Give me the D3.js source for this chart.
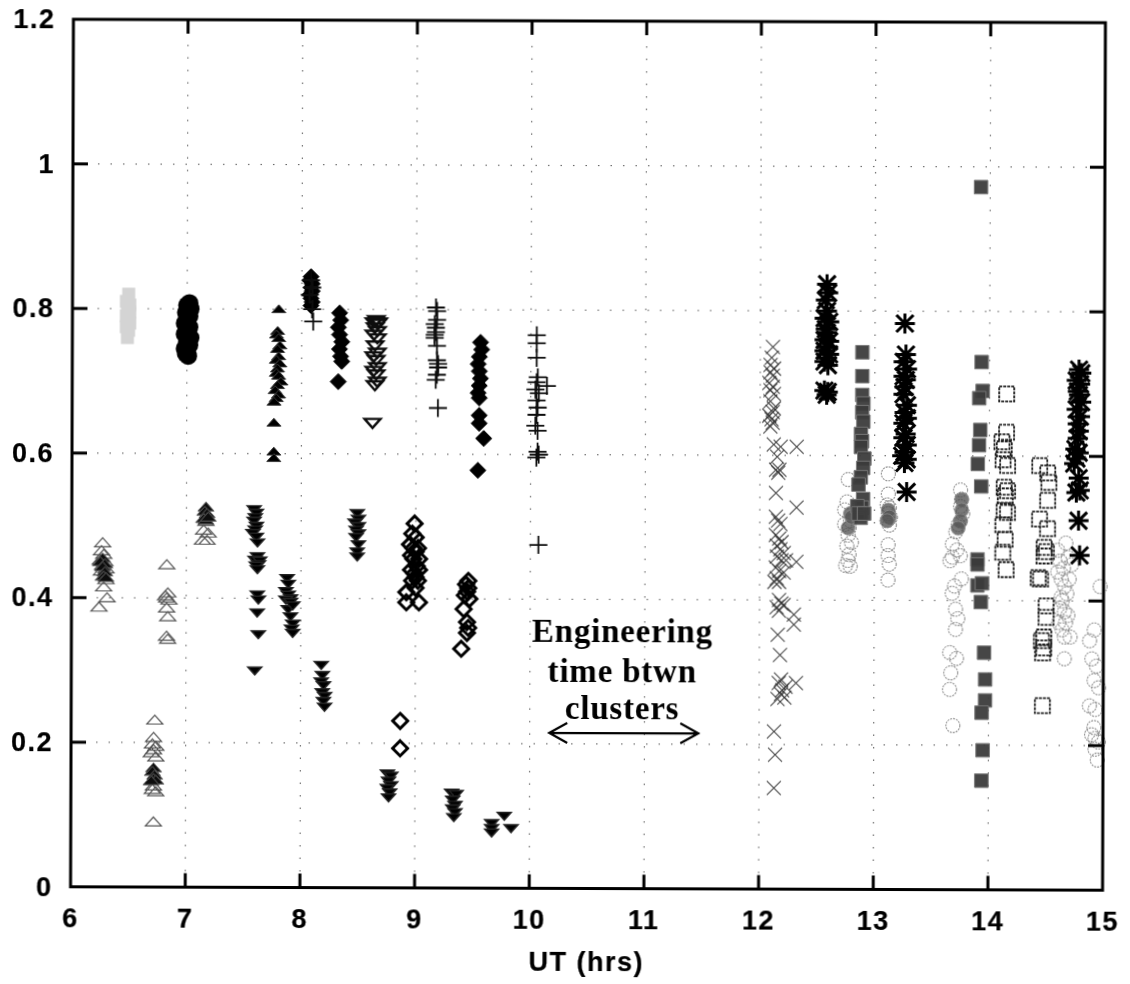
<!DOCTYPE html>
<html><head><meta charset="utf-8">
<script src="https://cdn.jsdelivr.net/npm/d3@7"></script>
<style>html,body{margin:0;padding:0;background:#fff}svg{display:block}</style>
</head><body><svg id="c" width="1130" height="984"><defs><filter id="scan" x="-2%" y="-2%" width="104%" height="104%"><feGaussianBlur stdDeviation="0.45"/></filter></defs></svg>
<script>
const xTicks=[6,7,8,9,10,11,12,13,14,15];
const yTicks=[0,0.2,0.4,0.6,0.8,1,1.2];
const xLabel="UT (hrs)";
const noteLines=["Engineering","time btwn","clusters"];
const noteArrow=[10.17,11.47,0.215];

const paleBlobs=[[6.49,.82],[6.47,.81],[6.5,.805],[6.48,.80],[6.5,.795],[6.47,.79],[6.49,.785],[6.5,.78],[6.47,.775],[6.49,.77],[6.48,.76]];
const blackCircles=[[7.02,.808],[7.0,.805],[7.03,.80],[6.99,.795],[7.02,.79],[7.0,.785],[6.98,.78],[7.02,.775],[7.0,.77],[6.98,.765],[7.03,.76],[7.0,.755],[7.02,.75],[6.98,.745],[7.0,.74],[7.01,.735],[6.99,.738]];
const blackUp=[[7.8,.80],[7.79,.77],[7.78,.765],[7.8,.76],[7.81,.75],[7.79,.745],[7.8,.735],[7.78,.73],[7.81,.725],[7.79,.718],[7.78,.712],[7.8,.708],[7.82,.70],[7.79,.695],[7.77,.688],[7.8,.682],[7.78,.677],[7.76,.672],[7.76,.643],[7.76,.603],[7.76,.594]];
const blackDiamonds=[[8.08,.845],[8.07,.84],[8.09,.835],[8.08,.83],[8.09,.825],[8.07,.82],[8.08,.815],[8.09,.81],[8.08,.805],[8.33,.795],[8.34,.785],[8.32,.775],[8.33,.765],[8.35,.755],[8.33,.745],[8.34,.735],[8.35,.728],[8.32,.70],[9.56,.755],[9.57,.745],[9.55,.735],[9.54,.725],[9.55,.715],[9.56,.705],[9.55,.695],[9.54,.685],[9.55,.678],[9.55,.654],[9.55,.643],[9.59,.622],[9.54,.578]];
const openDown=[[8.65,.785],[8.63,.782],[8.67,.782],[8.66,.78],[8.64,.775],[8.66,.77],[8.63,.765],[8.66,.76],[8.64,.75],[8.66,.74],[8.63,.735],[8.65,.73],[8.66,.72],[8.63,.715],[8.65,.71],[8.66,.70],[8.64,.695],[8.62,.643]];
const plusMarks=[[8.08,.84],[8.09,.83],[8.07,.82],[8.09,.80],[8.1,.783],[9.17,.803],[9.18,.798],[9.18,.786],[9.16,.78],[9.17,.775],[9.17,.769],[9.16,.765],[9.16,.761],[9.18,.75],[9.18,.73],[9.19,.725],[9.19,.72],[9.18,.71],[9.17,.703],[9.19,.664],[10.05,.765],[10.05,.754],[10.05,.734],[10.06,.707],[10.05,.70],[10.14,.695],[10.04,.69],[10.07,.685],[10.05,.675],[10.06,.665],[10.05,.655],[10.04,.64],[10.06,.633],[10.06,.604],[10.05,.596],[10.07,.60],[10.07,.475]];
const openUp=[[6.27,.476],[6.26,.465],[6.28,.46],[6.25,.452],[6.29,.45],[6.27,.445],[6.3,.44],[6.26,.437],[6.28,.43],[6.3,.425],[6.28,.415],[6.31,.40],[6.24,.387],[6.83,.446],[6.84,.407],[6.82,.403],[6.83,.40],[6.85,.397],[6.83,.386],[6.84,.374],[6.83,.347],[6.84,.343],[7.17,.506],[7.15,.494],[7.19,.49],[7.14,.48],[7.18,.48],[6.73,.231],[6.72,.207],[6.71,.198],[6.74,.195],[6.72,.19],[6.7,.186],[6.74,.18],[6.71,.135],[6.74,.132],[6.72,.14],[6.72,.09]];
const blackUpGray=[[6.27,.455],[6.25,.45],[6.29,.447],[6.27,.443],[6.29,.436],[6.28,.43],[6.3,.428],[7.17,.526],[7.16,.52],[7.18,.517],[7.15,.51],[7.17,.508],[7.19,.512],[6.72,.165],[6.71,.16],[6.73,.155],[6.72,.15],[6.74,.148],[6.7,.147]];
const blackDown=[[7.59,.523],[7.61,.518],[7.6,.512],[7.59,.507],[7.61,.50],[7.6,.495],[7.58,.49],[7.61,.485],[7.62,.477],[7.62,.458],[7.6,.453],[7.64,.452],[7.63,.447],[7.61,.445],[7.62,.44],[7.62,.405],[7.63,.398],[7.62,.38],[7.63,.35],[7.6,.30],[7.88,.428],[7.89,.42],[7.87,.41],[7.89,.405],[7.91,.40],[7.87,.398],[7.91,.395],[7.89,.385],[7.93,.39],[7.91,.375],[7.93,.365],[7.92,.358],[7.93,.352],[8.18,.308],[8.19,.294],[8.18,.285],[8.2,.28],[8.19,.27],[8.21,.265],[8.2,.258],[8.21,.25],[8.49,.518],[8.5,.51],[8.47,.505],[8.5,.50],[8.48,.495],[8.5,.49],[8.48,.485],[8.5,.475],[8.49,.465],[8.49,.458],[8.76,.158],[8.79,.155],[8.77,.148],[8.79,.142],[8.76,.138],[8.78,.132],[8.77,.125],[9.32,.132],[9.36,.13],[9.33,.122],[9.35,.115],[9.33,.11],[9.35,.105],[9.34,.098],[9.67,.09],[9.67,.083],[9.67,.077],[9.78,.10],[9.84,.083]];
const openDiamonds=[[8.99,.504],[8.97,.49],[9.0,.485],[8.95,.475],[9.02,.47],[8.98,.47],[9.0,.465],[8.96,.46],[9.03,.455],[8.98,.455],[9.01,.445],[8.96,.44],[9.03,.44],[8.99,.435],[9.02,.425],[8.97,.425],[9.0,.43],[8.92,.409],[8.92,.395],[9.0,.415],[9.03,.395],[9.46,.425],[9.44,.42],[9.46,.415],[9.43,.405],[9.47,.40],[9.45,.41],[9.42,.386],[9.45,.368],[9.46,.36],[9.45,.353],[9.4,.331],[8.87,.231],[8.87,.193]];
const grayCross=[[12.11,.75],[12.1,.735],[12.09,.725],[12.12,.72],[12.09,.715],[12.11,.71],[12.08,.70],[12.11,.695],[12.09,.69],[12.12,.685],[12.09,.675],[12.12,.665],[12.08,.655],[12.11,.66],[12.11,.645],[12.1,.65],[12.09,.64],[12.12,.615],[12.18,.612],[12.32,.612],[12.15,.598],[12.14,.58],[12.17,.58],[12.16,.576],[12.14,.548],[12.32,.528],[12.14,.515],[12.16,.51],[12.18,.505],[12.14,.49],[12.17,.485],[12.19,.48],[12.15,.475],[12.18,.47],[12.21,.465],[12.15,.46],[12.19,.455],[12.23,.455],[12.32,.453],[12.14,.445],[12.17,.44],[12.21,.438],[12.15,.43],[12.17,.425],[12.13,.425],[12.17,.40],[12.19,.395],[12.15,.39],[12.21,.393],[12.17,.385],[12.3,.38],[12.3,.366],[12.16,.352],[12.18,.324],[12.19,.29],[12.17,.285],[12.23,.28],[12.2,.275],[12.32,.285],[12.19,.27],[12.22,.265],[12.16,.263],[12.13,.218],[12.14,.186],[12.13,.14]];
const blackStars=[[12.58,.837],[12.59,.825],[12.57,.815],[12.58,.80],[12.56,.79],[12.6,.785],[12.57,.775],[12.58,.77],[12.56,.76],[12.6,.758],[12.58,.75],[12.56,.745],[12.6,.74],[12.58,.735],[12.56,.73],[12.59,.725],[12.56,.69],[12.59,.688],[12.58,.684],[13.26,.783],[13.27,.74],[13.25,.73],[13.28,.72],[13.25,.71],[13.27,.705],[13.26,.695],[13.25,.685],[13.28,.67],[13.26,.66],[13.28,.652],[13.25,.645],[13.27,.63],[13.25,.625],[13.28,.615],[13.26,.605],[13.24,.60],[13.28,.595],[13.26,.59],[13.28,.55],[14.78,.72],[14.8,.715],[14.76,.705],[14.79,.70],[14.77,.69],[14.78,.685],[14.8,.675],[14.76,.665],[14.79,.655],[14.77,.645],[14.78,.635],[14.77,.625],[14.75,.61],[14.78,.605],[14.76,.597],[14.74,.59],[14.78,.57],[14.76,.55],[14.79,.553],[14.78,.511],[14.79,.463]];
const graySquares=[[12.89,.743],[12.89,.71],[12.89,.684],[12.9,.672],[12.89,.66],[12.9,.647],[12.88,.63],[12.89,.62],[12.88,.612],[12.91,.596],[12.9,.583],[12.88,.57],[12.86,.56],[12.9,.54],[12.89,.528],[12.87,.52],[12.88,.514],[12.85,.53],[12.86,.52],[12.91,.52],[13.92,.972],[13.93,.73],[13.94,.69],[13.91,.68],[13.92,.636],[13.91,.615],[13.9,.589],[13.93,.558],[13.9,.457],[13.9,.45],[13.9,.421],[13.94,.424],[13.93,.398],[13.96,.328],[13.97,.291],[13.97,.262],[13.94,.245],[13.95,.193],[13.94,.151]];
const openSquares=[[14.15,.686],[14.15,.633],[14.11,.62],[14.13,.61],[14.12,.595],[14.16,.587],[14.13,.557],[14.16,.552],[14.14,.545],[14.13,.525],[14.16,.522],[14.12,.505],[14.14,.485],[14.12,.467],[14.15,.443],[14.44,.587],[14.51,.577],[14.52,.564],[14.51,.539],[14.44,.513],[14.51,.50],[14.48,.474],[14.5,.468],[14.48,.462],[14.43,.432],[14.45,.43],[14.5,.393],[14.5,.377],[14.48,.35],[14.46,.345],[14.48,.335],[14.47,.328],[14.47,.255]];
const grayCircles=[[12.77,.567],[12.76,.536],[12.74,.525],[12.79,.51],[12.78,.50],[12.74,.505],[12.77,.49],[12.8,.48],[12.76,.475],[12.78,.463],[12.77,.455],[12.75,.448],[12.79,.447],[13.12,.575],[13.12,.547],[13.11,.532],[13.13,.528],[13.12,.52],[13.14,.515],[13.11,.51],[13.13,.504],[13.12,.477],[13.12,.462],[13.13,.45],[13.12,.428],[13.75,.553],[13.76,.54],[13.75,.53],[13.77,.52],[13.75,.51],[13.73,.505],[13.71,.495],[13.68,.478],[13.72,.47],[13.66,.455],[13.68,.46],[13.75,.462],[13.7,.42],[13.76,.43],[13.68,.41],[13.71,.388],[13.73,.375],[13.71,.36],[13.66,.328],[13.72,.32],[13.67,.30],[13.66,.277],[13.69,.227],[14.67,.48],[14.69,.46],[14.65,.445],[14.63,.43],[14.66,.42],[14.68,.41],[14.64,.40],[14.66,.385],[14.69,.38],[14.67,.37],[14.64,.36],[14.66,.35],[14.71,.35],[14.66,.32],[14.6,.47],[14.62,.455],[14.6,.44],[14.63,.405],[14.7,.43],[14.72,.45],[14.62,.39],[14.61,.37],[14.97,.42],[14.92,.36],[14.88,.345],[14.9,.32],[14.94,.31],[14.92,.29],[14.96,.28],[14.88,.255],[14.93,.25],[14.92,.225],[14.9,.215],[14.93,.21],[14.96,.205],[14.93,.195],[14.95,.18]];
const shadedCircles=[[12.79,.52],[12.77,.50],[12.8,.515],[13.12,.525],[13.13,.515],[13.11,.51],[13.76,.54],[13.76,.525],[13.75,.51],[13.73,.50]];

const W=1130,H=984,L=72,R=1104,T=21,B=888.5;
const x=d3.scaleLinear().domain([6,15]).range([L,R]);
const y=d3.scaleLinear().domain([0,1.2]).range([B,T]);
const svg=d3.select("#c");
const g=svg.append("g").attr("transform",`rotate(0.19 588 454)`).attr("filter","url(#scan)");

// grid
g.append("g").selectAll("line").data(xTicks.slice(1,-1)).join("line")
 .attr("x1",d=>x(d)).attr("x2",d=>x(d)).attr("y1",T).attr("y2",B)
 .attr("stroke","#555").attr("stroke-width",1).attr("stroke-dasharray","1.5 11");
g.append("g").selectAll("line").data(yTicks.slice(1,-1)).join("line")
 .attr("x1",L).attr("x2",R).attr("y1",d=>y(d)).attr("y2",d=>y(d))
 .attr("stroke","#555").attr("stroke-width",1).attr("stroke-dasharray","1.5 11");

// symbol shapes
const shapes={
 up:s=>`M0 ${-s*.62}L${s} ${s*.5}L${-s} ${s*.5}Z`,
 down:s=>`M0 ${s*.62}L${s} ${-s*.5}L${-s} ${-s*.5}Z`,
 diamond:s=>`M0 ${-s}L${s} 0L0 ${s}L${-s} 0Z`,
 plus:s=>`M${-s} 0H${s}M0 ${-s}V${s}`,
 cross:s=>`M${-s} ${-s}L${s} ${s}M${-s} ${s}L${s} ${-s}`,
 star:s=>`M${-s} 0H${s}M0 ${-s}V${s}M${-s*.85} ${-s*.85}L${s*.85} ${s*.85}M${-s*.85} ${s*.85}L${s*.85} ${-s*.85}`,
 square:s=>`M${-s} ${-s}H${s}V${s}H${-s}Z`,
 circle:s=>`M${s} 0A${s} ${s} 0 1 1 ${-s} 0A${s} ${s} 0 1 1 ${s} 0Z`
};
const series=[
 {d:grayCircles,sh:"circle",s:7,fill:"none",stroke:"#808080",sw:1.1,dash:"2 1",op:.85},
 {d:shadedCircles,sh:"circle",s:7,fill:"#555",stroke:"#888",sw:1,op:.8},
 {d:paleBlobs,sh:"square",s:6.5,fill:"#d4d4d4",stroke:"none",sw:0,op:1},
 {d:graySquares,sh:"square",s:6.8,fill:"#3c3c3c",stroke:"#777",sw:1,op:.95},
 {d:openSquares,sh:"square",s:7.5,fill:"none",stroke:"#222",sw:1.8,dash:"3 1",op:1},
 {d:grayCross,sh:"cross",s:7,fill:"none",stroke:"#333",sw:1.1,op:.9},
 {d:blackStars,sh:"star",s:10,fill:"none",stroke:"#000",sw:3,op:1},
 {d:openUp,sh:"up",s:8,fill:"none",stroke:"#555",sw:1.2,op:1},
 {d:blackUpGray,sh:"up",s:8,fill:"#111",stroke:"#555",sw:1,op:1},
 {d:blackCircles,sh:"circle",s:9,fill:"#000",stroke:"none",sw:0,op:1},
 {d:blackUp,sh:"up",s:7,fill:"#000",stroke:"#333",sw:1,op:1},
 {d:blackDiamonds,sh:"diamond",s:8,fill:"#000",stroke:"#000",sw:1,op:1},
 {d:openDown,sh:"down",s:8,fill:"none",stroke:"#111",sw:2.4,op:1},
 {d:plusMarks,sh:"plus",s:9,fill:"none",stroke:"#111",sw:1.8,op:1},
 {d:blackDown,sh:"down",s:7,fill:"#000",stroke:"#222",sw:1.4,op:1},
 {d:openDiamonds,sh:"diamond",s:7.5,fill:"none",stroke:"#000",sw:3,op:1}
];
series.forEach(c=>{
 g.append("g").selectAll("path").data(c.d).join("path")
  .attr("transform",p=>`translate(${x(p[0])},${y(p[1])})`)
  .attr("d",shapes[c.sh](c.s))
  .attr("fill",c.fill).attr("stroke",c.stroke).attr("stroke-width",c.sw)
  .attr("stroke-dasharray",c.dash||null).attr("opacity",c.op);
});

// ticks + frame
const ink=sel=>sel.attr("stroke","#000").attr("stroke-width",3);
g.append("g").selectAll("line").data(xTicks.slice(1,-1).flatMap(d=>[[d,B,B-14],[d,T,T+14]])).join("line")
 .attr("x1",d=>x(d[0])).attr("x2",d=>x(d[0])).attr("y1",d=>d[1]).attr("y2",d=>d[2]).call(ink);
g.append("g").selectAll("line").data(yTicks.slice(1,-1).flatMap(d=>[[d,L,L+15],[d,R,R-15]])).join("line")
 .attr("y1",d=>y(d[0])).attr("y2",d=>y(d[0])).attr("x1",d=>d[1]).attr("x2",d=>d[2]).call(ink);
g.append("rect").attr("x",L).attr("y",T).attr("width",R-L).attr("height",B-T).attr("fill","none").call(ink);

// labels
const lab=sel=>sel.attr("font-family","Liberation Sans").attr("font-weight","bold").attr("font-size",27).attr("fill","#000")
 .attr("stroke","#000").attr("stroke-width",.2).style("letter-spacing","1.5px");
g.append("g").selectAll("text").data(xTicks).join("text").text(d=>d)
 .attr("x",d=>x(d)).attr("y",B+40).attr("text-anchor","middle").call(lab);
g.append("g").selectAll("text").data(yTicks).join("text").text(d=>d)
 .attr("x",L-18).attr("y",d=>y(d)+9).attr("text-anchor","end").call(lab);
g.append("text").text(xLabel).attr("x",(L+R)/2).attr("y",B+82).attr("text-anchor","middle").call(lab);

// note
const noteY=[642,682,719];
g.append("g").selectAll("text").data(noteLines).join("text").text(d=>d)
 .attr("x",623).attr("y",(d,i)=>noteY[i]).attr("text-anchor","middle")
 .attr("font-family","Liberation Serif").attr("font-weight","bold").attr("font-size",33).attr("fill","#000").style("letter-spacing","0.8px");
const ax0=x(noteArrow[0]),ax1=x(noteArrow[1]),ay=y(noteArrow[2]);
g.append("path").attr("fill","none").attr("stroke","#000").attr("stroke-width",2.2)
 .attr("d",`M${ax0} ${ay}H${ax1}M${ax0+18} ${ay-10}L${ax0} ${ay}L${ax0+18} ${ay+10}M${ax1-18} ${ay-10}L${ax1} ${ay}L${ax1-18} ${ay+10}`);
</script></body></html>
